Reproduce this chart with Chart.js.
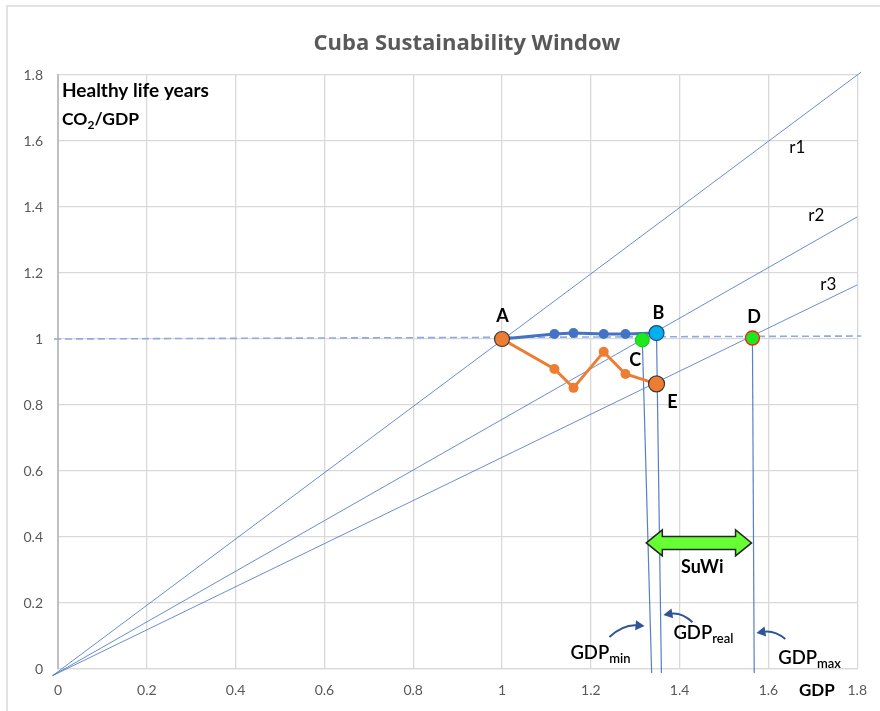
<!DOCTYPE html>
<html><head><meta charset="utf-8">
<script src="https://cdn.jsdelivr.net/npm/chart.js@4.4.1/dist/chart.umd.min.js"></script>
<style>html,body{margin:0;padding:0;background:#fff;}#wrap{width:880px;height:711px;}</style>
</head><body><div id="wrap"><canvas id="c" width="880" height="711"></canvas></div>
<script>
// ---- data ----
const xTickValues = [0, 0.2, 0.4, 0.6, 0.8, 1, 1.2, 1.4, 1.6, 1.8];
const xTickLabels = ['0', '0.2', '0.4', '0.6', '0.8', '1', '1.2', '1.4', '1.6', '1.8'];
const yTickValues = [0, 0.2, 0.4, 0.6, 0.8, 1, 1.2, 1.4, 1.6, 1.8];
const yTickLabels = ['0', '0.2', '0.4', '0.6', '0.8', '1', '1.2', '1.4', '1.6', '1.8'];

const periodGDP        = [1.000, 1.118, 1.161, 1.229, 1.278, 1.348];
const healthyLifeYears = [1.000, 1.015, 1.018, 1.015, 1.015, 1.018];
const co2PerGDP        = [1.000, 0.909, 0.852, 0.961, 0.894, 0.864];

const keyPointNames = ['A', 'B', 'C', 'D', 'E'];
const keyPointX     = [1.000, 1.348, 1.316, 1.564, 1.348];
const keyPointY     = [1.000, 1.018, 0.997, 1.003, 0.864];

const rayNames  = ['r1', 'r2', 'r3'];
const rayStartX = [-0.012, -0.012, -0.012];
const rayStartY = [-0.020, -0.020, -0.020];
const rayEndX   = [1.809, 1.800, 1.800];
const rayEndY   = [1.809, 1.370, 1.164];

const refLineX = [-0.009, 1.809];
const refLineY = [1.000, 1.009];

const gdpNames   = ['GDPmin', 'GDPreal', 'GDPmax'];
const gdpTopX    = [1.316, 1.348, 1.564];
const gdpTopY    = [0.997, 1.015, 1.003];
const gdpBottomX = [1.337, 1.359, 1.568];
const gdpBottomY = [-0.012, -0.012, -0.012];

const suwiRange = [1.325, 1.562];
const suwiLevel = 0.382;

// ---- datasets ----
const pts = (xs, ys) => xs.map((x, i) => ({x: x, y: ys[i]}));
const BLUE = '#4472C4', ORANGE = '#ED7D31';

const datasets = [];
datasets.push({
  label: 'Key points', data: pts(keyPointX, keyPointY), order: 0, showLine: false,
  backgroundColor: ['#ED7D31', '#00B0F0', '#1DE81D', '#1DE81D', '#ED7D31'],
  borderColor: ['#3b3b3b', '#1F4E79', '#18C418', '#FF1A1A', '#3b3b3b'],
  borderWidth: [1.2, 1.2, 1, 1.3, 1.2],
  pointRadius: [7.5, 7.5, 7, 7, 8]
});
datasets.push({
  label: 'Healthy life years', data: pts(periodGDP, healthyLifeYears), order: 1, showLine: true,
  borderColor: BLUE, borderWidth: 3, backgroundColor: BLUE,
  pointRadius: c => (c.dataIndex === 0 || c.dataIndex === periodGDP.length - 1) ? 0 : 5,
  pointBorderWidth: 0
});
datasets.push({
  label: 'CO2/GDP', data: pts(periodGDP, co2PerGDP), order: 2, showLine: true,
  borderColor: ORANGE, borderWidth: 3, backgroundColor: ORANGE,
  pointRadius: c => (c.dataIndex === 0 || c.dataIndex === periodGDP.length - 1) ? 0 : 5,
  pointBorderWidth: 0
});
datasets.push({
  label: 'Reference', data: pts(refLineX, refLineY), order: 6, showLine: true, clip: false,
  borderColor: '#8FAADC', borderWidth: 1.6, borderDash: [7, 4], pointRadius: 0
});
rayNames.forEach((n, i) => datasets.push({
  label: n, data: [{x: rayStartX[i], y: rayStartY[i]}, {x: rayEndX[i], y: rayEndY[i]}],
  order: 7, showLine: true, clip: false, borderColor: 'rgba(68,114,196,0.8)', borderWidth: 1, pointRadius: 0
}));
gdpNames.forEach((n, i) => datasets.push({
  label: n, data: [{x: gdpTopX[i], y: gdpTopY[i]}, {x: gdpBottomX[i], y: gdpBottomY[i]}],
  order: 5, showLine: true, clip: false, borderColor: 'rgba(68,114,196,0.9)', borderWidth: 1.2, pointRadius: 0
}));

// ---- annotation plugin ----
const FONT = 'Lato, "Open Sans", sans-serif';
function subText(ctx, x, y, main, sub, size, weight) {
  ctx.textAlign = 'left'; ctx.textBaseline = 'middle';
  ctx.font = `${weight} ${size}px ${FONT}`;
  const w1 = ctx.measureText(main).width;
  ctx.fillText(main, x, y);
  ctx.font = `${weight} ${Math.round(size * 0.68)}px ${FONT}`;
  ctx.fillText(sub, x + w1, y + size * 0.33);
  return x + w1 + ctx.measureText(sub).width;
}
function curvedArrow(ctx, p0, pc, p1) {
  ctx.save();
  ctx.strokeStyle = '#2F5597'; ctx.fillStyle = '#2F5597'; ctx.lineWidth = 2;
  const ang = Math.atan2(p1.y - pc.y, p1.x - pc.x);
  const back = {x: p1.x - 7 * Math.cos(ang), y: p1.y - 7 * Math.sin(ang)};
  ctx.beginPath(); ctx.moveTo(p0.x, p0.y); ctx.quadraticCurveTo(pc.x, pc.y, back.x, back.y); ctx.stroke();
  ctx.beginPath();
  ctx.moveTo(p1.x, p1.y);
  ctx.lineTo(p1.x - 9 * Math.cos(ang) + 5 * Math.sin(ang), p1.y - 9 * Math.sin(ang) - 5 * Math.cos(ang));
  ctx.lineTo(p1.x - 9 * Math.cos(ang) - 5 * Math.sin(ang), p1.y - 9 * Math.sin(ang) + 5 * Math.cos(ang));
  ctx.closePath(); ctx.fill();
  ctx.restore();
}
const annot = {
  id: 'annot',
  beforeDraw(chart) {
    const ctx = chart.ctx;
    ctx.save();
    ctx.fillStyle = '#fff'; ctx.fillRect(0, 0, chart.width, chart.height);
    ctx.strokeStyle = '#d9d9d9'; ctx.lineWidth = 1.5;
    ctx.strokeRect(7, 6, chart.width + 20, chart.height + 20);
    ctx.restore();
  },
  afterDatasetsDraw(chart) {
    const ctx = chart.ctx, sx = chart.scales.x, sy = chart.scales.y;
    const P = (x, y) => ({x: sx.getPixelForValue(x), y: sy.getPixelForValue(y)});
    ctx.save();
    // SuWi double arrow
    const L = P(suwiRange[0], suwiLevel), R = P(suwiRange[1], suwiLevel);
    const hl = 16, hh = 13, bh = 6.5;
    ctx.beginPath();
    ctx.moveTo(L.x, L.y);
    ctx.lineTo(L.x + hl, L.y - hh); ctx.lineTo(L.x + hl, L.y - bh);
    ctx.lineTo(R.x - hl, R.y - bh); ctx.lineTo(R.x - hl, R.y - hh);
    ctx.lineTo(R.x, R.y);
    ctx.lineTo(R.x - hl, R.y + hh); ctx.lineTo(R.x - hl, R.y + bh);
    ctx.lineTo(L.x + hl, L.y + bh); ctx.lineTo(L.x + hl, L.y + hh);
    ctx.closePath();
    ctx.fillStyle = '#66FF33'; ctx.fill();
    ctx.strokeStyle = '#262626'; ctx.lineWidth = 1.5; ctx.stroke();

    // curved pointer arrows
    curvedArrow(ctx, P(1.242, 0.097), P(1.274, 0.136), P(1.321, 0.130));
    curvedArrow(ctx, P(1.429, 0.142), P(1.404, 0.173), P(1.3635, 0.164));
    curvedArrow(ctx, P(1.638, 0.091), P(1.613, 0.118), P(1.573, 0.109));
    ctx.restore();
  },
  afterDraw(chart) {
    const ctx = chart.ctx, sx = chart.scales.x, sy = chart.scales.y, ca = chart.chartArea;
    const P = (x, y) => ({x: sx.getPixelForValue(x), y: sy.getPixelForValue(y)});
    ctx.save();
    // title
    ctx.fillStyle = '#595959'; ctx.textAlign = 'center'; ctx.textBaseline = 'middle';
    ctx.font = `bold 22px "Open Sans", Lato, sans-serif`;
    ctx.fillText('Cuba Sustainability Window', 467, 44);

    ctx.fillStyle = '#000';
    // axis captions
    ctx.textAlign = 'left'; ctx.textBaseline = 'middle';
    ctx.font = `bold 19px ${FONT}`;
    ctx.fillText('Healthy life years', ca.left + 4, ca.top + 16);
    const xe = subText(ctx, ca.left + 4, ca.top + 44, 'CO', '2', 17.5, 'bold');
    ctx.font = `bold 17.5px ${FONT}`;
    ctx.fillText('/GDP', xe, ca.top + 44);
    ctx.textAlign = 'center';
    ctx.font = `bold 17px ${FONT}`;
    ctx.fillText('GDP', P(1.709, 0).x, ca.bottom + 22);

    // point labels
    ctx.font = `bold 18px ${FONT}`; ctx.textAlign = 'center'; ctx.textBaseline = 'middle';
    const lab = [['A', 1.001, 1.070], ['B', 1.352, 1.079], ['C', 1.300, 0.936], ['D', 1.568, 1.067], ['E', 1.384, 0.809]];
    lab.forEach(l => { const p = P(l[1], l[2]); ctx.fillText(l[0], p.x, p.y); });
    ctx.font = `normal 17px ${FONT}`;
    const rl = [['r1', 1.665, 1.579], ['r2', 1.708, 1.373], ['r3', 1.735, 1.164]];
    rl.forEach(l => { const p = P(l[1], l[2]); ctx.fillText(l[0], p.x, p.y); });
    ctx.font = `bold 18px ${FONT}`;
    { const p = P(1.451, 0.309); ctx.fillText('SuWi', p.x, p.y); }
    // GDP labels with subscripts
    { const p = P(1.154, 0.048); subText(ctx, p.x, p.y, 'GDP', 'min', 18.5, '600'); }
    { const p = P(1.386, 0.109); subText(ctx, p.x, p.y, 'GDP', 'real', 18.5, '600'); }
    { const p = P(1.622, 0.033); subText(ctx, p.x, p.y, 'GDP', 'max', 18.5, '600'); }
    ctx.restore();
  }
};

const tickFont = {family: FONT, size: 14};
new Chart(document.getElementById('c'), {
  type: 'scatter',
  data: {datasets: datasets},
  options: {
    responsive: false, animation: false, events: [],
    layout: {padding: {left: 0, right: 22, top: 75, bottom: 0}},
    plugins: {legend: {display: false}, tooltip: {enabled: false}, title: {display: false}},
    scales: {
      x: {
        type: 'linear', min: 0, max: 1.8,
        afterBuildTicks: s => { s.ticks = xTickValues.map(v => ({value: v})); },
        afterFit: s => { s.height = 42; },
        ticks: {callback: (v, i) => xTickLabels[i], color: '#595959', font: tickFont, padding: 13, maxRotation: 0, autoSkip: false},
        grid: {color: '#d9d9d9', lineWidth: 1.3, drawTicks: false},
        border: {color: '#d9d9d9', width: 1.3}
      },
      y: {
        type: 'linear', min: 0, max: 1.8,
        afterBuildTicks: s => { s.ticks = yTickValues.map(v => ({value: v})); },
        afterFit: s => { s.width = 58; },
        ticks: {callback: (v, i) => yTickLabels[i], color: '#595959', font: tickFont, padding: 15, autoSkip: false},
        grid: {color: '#d9d9d9', lineWidth: 1.3, drawTicks: false},
        border: {color: '#bfbfbf', width: 2}
      }
    }
  },
  plugins: [annot]
});
</script></body></html>
